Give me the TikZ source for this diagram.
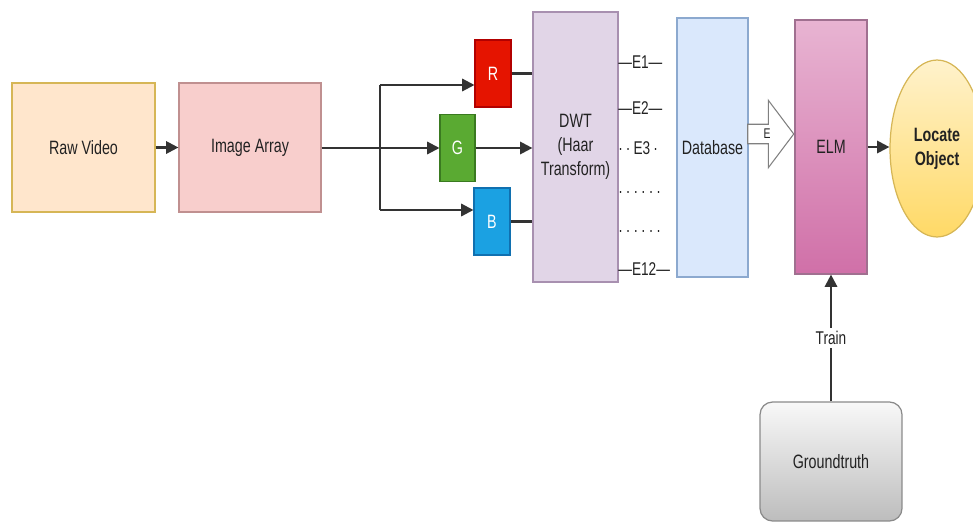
\documentclass[tikz,border=0pt]{standalone}
\usepackage{fontspec}
\setmainfont{Liberation Sans}[FakeStretch=0.74]
\usepackage{tikz}
\usetikzlibrary{arrows.meta,positioning,shapes.arrows,shapes.geometric}

\definecolor{txtgray}{HTML}{222222}
\definecolor{linegray}{HTML}{333333}
\definecolor{rawfill}{HTML}{FFE6CC}
\definecolor{rawdraw}{HTML}{D6B656}
\definecolor{imgfill}{HTML}{F8CECC}
\definecolor{imgdraw}{HTML}{C09090}
\definecolor{rfill}{HTML}{E51400}
\definecolor{rdraw}{HTML}{B20000}
\definecolor{gfill}{HTML}{5AAA32}
\definecolor{gdraw}{HTML}{3A7A20}
\definecolor{bfill}{HTML}{1BA1E2}
\definecolor{bdraw}{HTML}{1070B0}
\definecolor{dwtfill}{HTML}{E1D5E7}
\definecolor{dwtdraw}{HTML}{A890B0}
\definecolor{dbfill}{HTML}{DAE8FC}
\definecolor{dbdraw}{HTML}{8CA9CF}
\definecolor{elmtop}{HTML}{E8B4D2}
\definecolor{elmbot}{HTML}{D070A8}
\definecolor{elmdraw}{HTML}{A07090}
\definecolor{loctop}{HTML}{FFF2CC}
\definecolor{locbot}{HTML}{FFD966}
\definecolor{locdraw}{HTML}{D6B656}
\definecolor{gttop}{HTML}{F8F8F8}
\definecolor{gtbot}{HTML}{BDBDBD}
\definecolor{gtdraw}{HTML}{8A8A8A}

\begin{document}
\begin{tikzpicture}[
  x=0.02cm, y=-0.02cm,
  block/.style={rectangle, draw, line width=0.7pt, text=txtgray, align=center,
    inner sep=2pt, font=\fontsize{11}{13.5}\selectfont},
  chan/.style={rectangle, draw, line width=0.6pt, minimum width=0.72cm,
    minimum height=1.34cm, text=white, font=\fontsize{11}{13}\selectfont},
  etag/.style={inner sep=0pt, text=txtgray, font=\fontsize{10.5}{12}\selectfont},
  earrow/.style={single arrow, draw=gray, fill=white, line width=0.6pt,
    minimum height=0.92cm, single arrow head extend=0.48cm,
    single arrow tip angle=106, inner xsep=1pt, inner ysep=2.5pt,
    text=txtgray, font=\fontsize{8}{8}\selectfont},
  link/.style={draw=linegray, line width=1.3pt},
  flow/.style={link, -{Triangle[length=7pt,width=7pt]}}
]
  \useasboundingbox (0,0) rectangle (973,524);

  % main chain
  \node[block, fill=rawfill, draw=rawdraw, minimum width=2.86cm, minimum height=2.58cm] (raw) at (83.5,147.5) {Raw Video};
  \node[block, fill=imgfill, draw=imgdraw, minimum width=2.84cm, minimum height=2.58cm] (img) at (250,147.5) {Image Array};

  % colour channels
  \node[chan, fill=rfill, draw=rdraw] (r) at (493,73.5) {R};
  \node[chan, fill=gfill, draw=gdraw, minimum width=0.7cm] (g) at (457.5,148) {G};
  \node[chan, fill=bfill, draw=bdraw] (b) at (492,221.5) {B};

  \node[block, fill=dwtfill, draw=dwtdraw, minimum width=1.7cm, minimum height=5.4cm] (dwt) at (575.5,147) {DWT\\(Haar\\Transform)};
  \node[block, fill=dbfill, draw=dbdraw, minimum width=1.42cm, minimum height=5.18cm] (db) at (712.5,147.5) {Database};
  \node[block, top color=elmtop, bottom color=elmbot, draw=elmdraw, minimum width=1.44cm, minimum height=5.08cm] (elm) at (831,147) {ELM};
  \node[ellipse, draw=locdraw, line width=0.7pt, top color=loctop, bottom color=locbot, minimum width=1.88cm, minimum height=3.54cm,
    inner sep=0pt, align=center, text=txtgray, font=\bfseries\fontsize{11}{13.5}\selectfont] (loc) at (937,148.5) {Locate\\Object};
  \node[block, rounded corners=0.25cm, draw=gtdraw, top color=gttop, bottom color=gtbot, minimum width=2.84cm, minimum height=2.38cm] (gt) at (831,461.5) {Groundtruth};

  % feature labels
  \foreach \ypos/\name/\txt in {62/e1/—E1—, 108/e2/—E2—, 148/e3/{·\,·\,E3\,·}, 194/d1/{·\,·\,·\,·\,·\,·}, 233/d2/{·\,·\,·\,·\,·\,·}, 269/e12/—E12—}
    \node[etag, anchor=west] (\name) at (618,\ypos) {\txt};

  \node[earrow, anchor=tip] (ein) at (elm.west |- 0,134) {E};

  % connectors
  \coordinate (split) at (380,148);
  \coordinate (split r) at (380,85);
  \coordinate (split b) at (380,210);
  \draw[flow] (raw) -- (img);
  \draw[link] (img.east |- split) -- (split);
  \draw[link] (split r) -- (split b);
  \draw[flow] (split r) -- (split r -| r.west);
  \draw[flow] (split) -- (split -| g.west);
  \draw[flow] (split b) -- (split b -| b.west);
  \draw[link] (r.east) -- (r.east -| dwt.west);
  \draw[flow] (g.east) -- (g.east -| dwt.west);
  \draw[link] (b.east) -- (b.east -| dwt.west);
  \draw[flow] (elm.east |- 0,147) -- (loc.west |- 0,147);
  \draw[flow] (gt.north) -- node[etag, fill=white, inner sep=2pt] {Train} (elm.south);
\end{tikzpicture}
\end{document}
